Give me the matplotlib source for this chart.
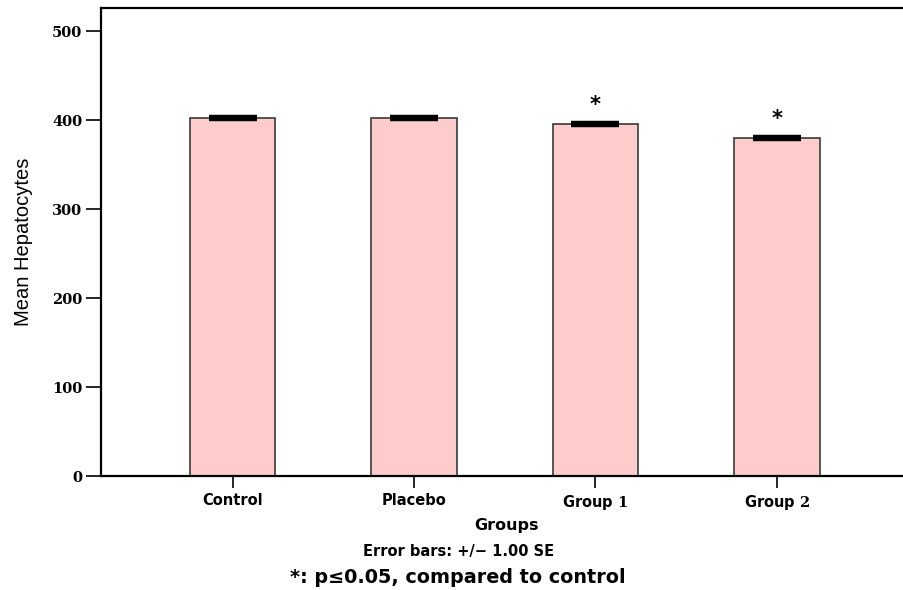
import matplotlib
matplotlib.use("Agg")
import matplotlib.pyplot as plt

# Mean hepatocyte counts per group, with standard errors
groups = ["Control", "Placebo", "Group $\\mathbf{1}$", "Group $\\mathbf{2}$"]
means = [402.5, 402.0, 396.0, 380.0]
se = [1.2, 1.2, 1.2, 1.0]
significant = [False, False, True, True]
yticks = [0, 100, 200, 300, 400, 500]

plt.rcParams["mathtext.fontset"] = "dejavuserif"

fig = plt.figure(figsize=(9.04, 5.90), dpi=100)
ax = fig.add_axes([0.1117, 0.1932, 0.8883 + 0.02, 0.7932])

x = list(range(len(groups)))
ax.bar(x, means, width=0.47, color="#FFCCCC", edgecolor="#3a3a3a", linewidth=1.2, zorder=2)
ax.errorbar(x, means, yerr=se, fmt="none", ecolor="black", elinewidth=1.5,
            capsize=17, capthick=3.2, zorder=3)

for xi, m, s, sig in zip(x, means, se, significant):
    if sig:
        ax.text(xi, m + s + 9, "*", ha="center", va="bottom", fontsize=15,
                fontweight="bold", family="DejaVu Sans")

ax.set_xlim(-0.725, 3.80)
ax.set_ylim(0, 526)
ax.set_yticks(yticks)
ax.set_yticklabels([str(v) for v in yticks],
                   family="DejaVu Serif", fontweight="bold", fontsize=10.5)
ax.set_xticks(x)
ax.set_xticklabels(groups, family="DejaVu Sans", fontweight="bold", fontsize=10.5)

for side in ["left", "top", "bottom"]:
    ax.spines[side].set_linewidth(1.6)
ax.spines["right"].set_visible(False)
ax.tick_params(axis="y", direction="out", length=10.5, width=1.2, pad=3)
ax.tick_params(axis="x", direction="out", length=8.5, width=1.2, pad=3.5)

ax.set_ylabel("Mean Hepatocytes", family="Liberation Sans", fontsize=14.5, labelpad=14)

fig.text(0.560, 0.110, "Groups", ha="center", va="center", family="DejaVu Sans",
         fontweight="bold", fontsize=11.5)
fig.text(0.507, 0.066, "Error bars: +/\u2212 1.00 SE", ha="center", va="center",
         family="DejaVu Sans", fontweight="bold", fontsize=10.5)
fig.text(0.506, 0.022, "*: p\u22640.05, compared to control", ha="center", va="center",
         family="DejaVu Sans", fontweight="bold", fontsize=13.8)

fig.savefig("out.png", dpi=100)
